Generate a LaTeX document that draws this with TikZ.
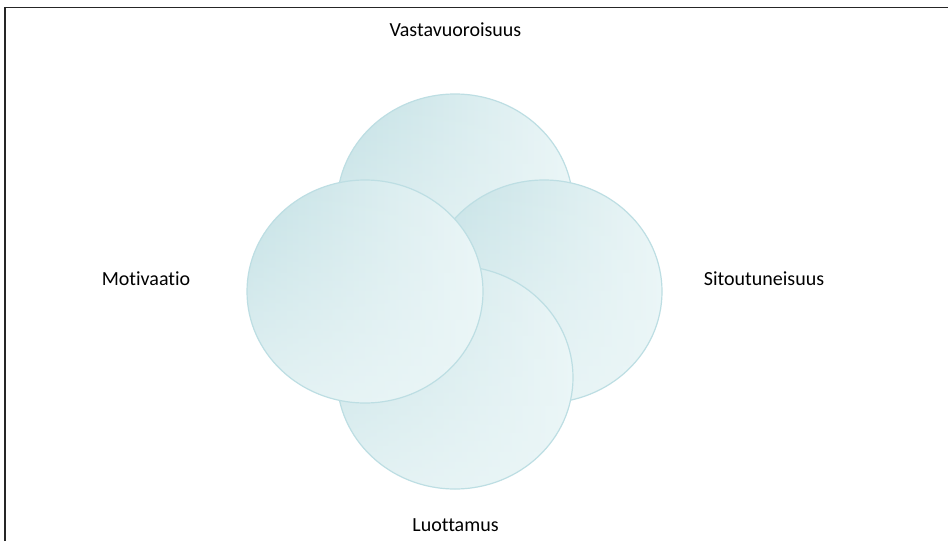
\documentclass[tikz,border=0pt]{standalone}
\usepackage{fontspec}
\setmainfont[Ligatures=NoCommon]{Carlito}
\usetikzlibrary{fadings}
\definecolor{petaldark}{HTML}{C4E1E5}
\definecolor{petallight}{HTML}{EBF6F7}
\definecolor{petaledge}{HTML}{BDDEE3}
\definecolor{framegray}{HTML}{262626}
\tikzset{
  petal/.style={draw=petaledge, line width=1.2pt},
  label/.style={anchor=base, font=\fontsize{20}{24}\selectfont, text=black, inner sep=0pt},
}
% draws one shaded ellipse centred at #1 and names its centre #2
\newcommand{\petalat}[2]{%
  \shade[left color=petaldark, right color=petallight] #1 ellipse [x radius=118pt, y radius=111.5pt];
  \fill[petallight, path fading=north, fill opacity=0.8] #1 ellipse [x radius=118pt, y radius=111.5pt];
  \draw[petal] #1 ellipse [x radius=118pt, y radius=111.5pt];
  \coordinate (#2) at #1;
}
\begin{document}
\begin{tikzpicture}[x=1pt, y=-1pt]
  \useasboundingbox (0,0) rectangle (948,541);
  \fill[white] (0,0) rectangle (948,541);
  % frame: only the top and left edges fall inside the page
  \draw[framegray, line width=1.4pt] (4.8,541) -- (4.8,7.2) -- (948,7.2);

  % overlapping ellipses, back to front
  \petalat{(455,205.5)}{top}
  \petalat{(544,291.5)}{right}
  \petalat{(455,377.5)}{bottom}
  \petalat{(365,291.5)}{left}

  % captions
  \node[label] (vastavuoroisuus) at (455.5,36.6) {Vastavuoroisuus};
  \node[label] (sitoutuneisuus) at (764,285) {Sitoutuneisuus};
  \node[label] (motivaatio) at (146,285) {Motivaatio};
  \node[label] (luottamus) at (455.5,531.5) {Luottamus};
\end{tikzpicture}
\end{document}
